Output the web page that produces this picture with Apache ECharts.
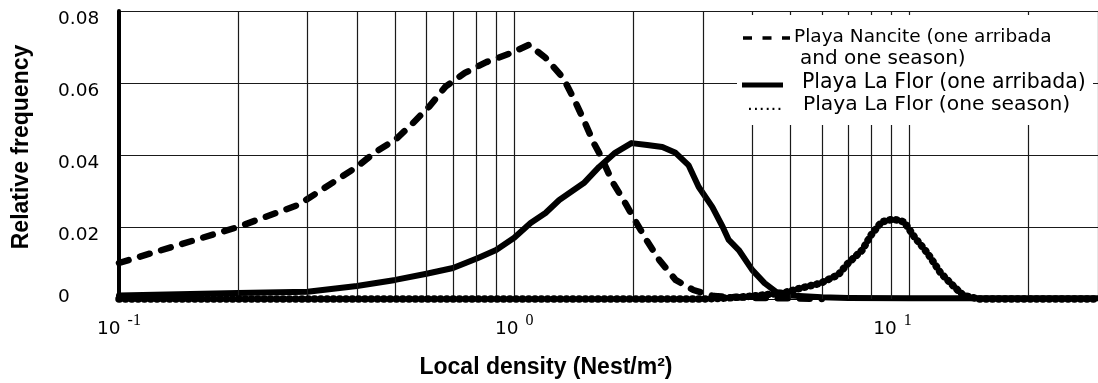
<!DOCTYPE html>
<html>
<head>
<meta charset="utf-8">
<script src="https://cdn.jsdelivr.net/npm/echarts@6/dist/echarts.min.js"></script>
<style>
  html, body { margin: 0; padding: 0; background: #fff; }
  #chart { width: 1098px; height: 383px; }
</style>
</head>
<body>
<div id="chart"></div>
<script>
// Local nest density (nests/m²) and relative frequency for each data set
const nanciteDensity = [0.1, 0.2, 0.285, 0.4, 0.445, 0.5, 0.55, 0.61, 0.67, 0.75, 0.85, 0.98, 1.09, 1.2, 1.33, 1.41, 1.5, 1.59, 1.64, 1.78, 1.89, 2.04, 2.16, 2.33, 2.56, 2.84, 3.2, 4.0, 5.0, 6.0];
const nanciteFreq    = [0.0100, 0.0200, 0.0262, 0.0367, 0.0408, 0.0442, 0.0485, 0.0535, 0.0590, 0.0628, 0.0658, 0.0683, 0.0706, 0.0670, 0.0614, 0.0560, 0.0497, 0.0433, 0.0406, 0.0322, 0.0275, 0.0211, 0.0164, 0.0108, 0.0053, 0.0025, 0.0008, 0.0003, 0.0002, 0.0];

const arribadaDensity = [0.1, 0.2, 0.3, 0.4, 0.5, 0.6, 0.7, 0.81, 0.9, 1.0, 1.1, 1.2, 1.3, 1.5, 1.64, 1.8, 1.98, 2.17, 2.37, 2.56, 2.76, 2.93, 3.17, 3.37, 3.49, 3.7, 4.0, 4.3, 4.6, 5.0, 6.0, 7.0, 10, 20, 30];
const arribadaFreq    = [0.0010, 0.0017, 0.0020, 0.0036, 0.0053, 0.0070, 0.0086, 0.0114, 0.0136, 0.0170, 0.0211, 0.0239, 0.0275, 0.0322, 0.0367, 0.0406, 0.0433, 0.0428, 0.0422, 0.0406, 0.0372, 0.0311, 0.0256, 0.0200, 0.0164, 0.0136, 0.0081, 0.0044, 0.0020, 0.0010, 0.0005, 0.0003, 0.0002, 0.0002, 0.0002];

const seasonDensity = [0.1, 0.5, 1.0, 2.0, 3.0, 3.5, 4.0, 4.8, 5.3, 5.96, 6.6, 7.0, 7.6, 8.0, 8.5, 9.1, 9.7, 10.3, 11.1, 12.0, 13.0, 13.7, 15, 20, 30];
const seasonFreq    = [0, 0, 0, 0, 0, 0.0003, 0.0008, 0.0017, 0.0030, 0.0044, 0.0067, 0.0100, 0.0136, 0.0178, 0.0214, 0.0222, 0.0214, 0.0172, 0.0128, 0.0072, 0.0033, 0.0010, 0, 0, 0];

// Axis ticks and reference grid
const xTickExponents = [-1, 0, 1];
const yTickLabels = ['0', '0.02', '0.04', '0.06', '0.08'];
const gridDensities = [0.2, 0.3, 0.4, 0.5, 0.6, 0.7, 0.8, 0.9, 2, 3, 4, 5, 6, 7, 8, 9, 20];

const seriesNames = [
  'Playa Nancite (one arribada and one season)',
  'Playa La Flor (one arribada)',
  'Playa La Flor (one season)'
];

const pairs = (xs, ys) => xs.map((x, i) => [x, ys[i]]);

const FONT = 'DejaVu Sans';
const legendFont = size => size + 'px "DejaVu Sans"';
const chart = echarts.init(document.getElementById('chart'));

chart.setOption({
  animation: false,
  backgroundColor: '#fff',
  grid: { left: 119, right: -7, top: 11, bottom: 84, containLabel: false },
  xAxis: {
    type: 'log',
    logBase: 10,
    min: 0.1,
    max: 30,
    axisLine: { show: true, lineStyle: { color: '#000', width: 1 } },
    axisTick: { show: false },
    splitLine: { show: true, lineStyle: { color: '#1a1a1a', width: 1.2 } },
    axisLabel: {
      margin: 14,
      showMaxLabel: false,
      formatter: function (v) {
        const lg = Math.log10(v);
        const e = Math.round(lg);
        if (Math.abs(lg - e) > 1e-6 || xTickExponents.indexOf(e) < 0) return '';
        const sup = e === 1 ? 'sl' : 's';
        return '{b|10}{' + sup + '|' + e + '}';
      },
      rich: {
        b: { fontFamily: FONT, fontSize: 18.5, color: '#000', verticalAlign: 'bottom', lineHeight: 26 },
        s: { fontFamily: 'Liberation Serif', fontSize: 16, color: '#000', verticalAlign: 'top', padding: [0, 0, 0, 7], lineHeight: 26 },
        sl: { fontFamily: 'Liberation Serif', fontSize: 16, color: '#000', verticalAlign: 'top', padding: [0, 34, 0, 7], lineHeight: 26 }
      }
    }
  },
  yAxis: {
    type: 'value',
    min: 0,
    max: 0.08,
    interval: 0.02,
    axisLine: { show: true, lineStyle: { color: '#000', width: 4 } },
    axisTick: { show: false },
    splitLine: { show: true, lineStyle: { color: '#1a1a1a', width: 1.2 } },
    axisLabel: {
      align: 'left',
      margin: 61,
      formatter: function (v) {
        const label = yTickLabels[Math.round(v / 0.02)];
        return v === 0 ? '{z|' + label + '}' : '{d|' + label + '}';
      },
      rich: {
        d: { fontFamily: FONT, fontSize: 18.5, color: '#000', padding: [16, 0, 0, 0] },
        z: { fontFamily: FONT, fontSize: 18.5, color: '#000', padding: [0, 0, 4, 0] }
      }
    }
  },
  series: [
    {
      // vertical reference lines at 2–9 times each decade
      type: 'line',
      data: [],
      z: 1,
      silent: true,
      markLine: {
        silent: true,
        symbol: 'none',
        label: { show: false },
        lineStyle: { color: '#1a1a1a', width: 1.2, type: 'solid' },
        data: gridDensities.map(d => ({ xAxis: d }))
      }
    },
    {
      name: seriesNames[0],
      type: 'line',
      z: 3,
      clip: false,
      symbol: 'none',
      data: pairs(nanciteDensity, nanciteFreq),
      lineStyle: { color: '#000', width: 6.5, type: [10, 12], cap: 'round', join: 'round' }
    },
    {
      name: seriesNames[1],
      type: 'line',
      z: 4,
      clip: false,
      symbol: 'none',
      data: pairs(arribadaDensity, arribadaFreq),
      lineStyle: { color: '#000', width: 6, type: 'solid', cap: 'round', join: 'round' }
    },
    {
      name: seriesNames[2],
      type: 'line',
      z: 5,
      clip: false,
      symbol: 'none',
      data: pairs(seasonDensity, seasonFreq),
      lineStyle: { color: '#000', width: 7.5, type: [0.5, 5.8], cap: 'round', join: 'round' }
    }
  ],
  graphic: [
    {
      type: 'text',
      z: 100,
      x: 22, y: 147,
      rotation: Math.PI / 2,
      style: {
        text: 'Relative frequency',
        font: 'bold 23px "Liberation Sans", Arial, sans-serif',
        fill: '#000',
        align: 'center',
        verticalAlign: 'middle'
      }
    },
    {
      type: 'text',
      z: 100,
      x: 546, y: 368,
      style: {
        text: 'Local density (Nest/m²)',
        font: 'bold 23px "Liberation Sans", Arial, sans-serif',
        fill: '#000',
        align: 'center',
        verticalAlign: 'middle'
      }
    },
    {
      type: 'group',
      z: 100,
      children: [
        { type: 'rect', z: 100, shape: { x: 737, y: 15, width: 356, height: 110 }, style: { fill: '#fff' } },
        { type: 'line', z: 101, shape: { x1: 743, y1: 38, x2: 790, y2: 38 }, style: { stroke: '#000', lineWidth: 3.5, lineDash: [9, 10.5] } },
        { type: 'text', z: 101, x: 794, y: 37, style: { text: 'Playa Nancite (one arribada', font: legendFont(18.5), fill: '#000', align: 'left', verticalAlign: 'middle' } },
        { type: 'text', z: 101, x: 800, y: 59, style: { text: 'and one season)', font: legendFont(20), fill: '#000', align: 'left', verticalAlign: 'middle' } },
        { type: 'line', z: 101, shape: { x1: 742, y1: 85, x2: 783, y2: 85 }, style: { stroke: '#000', lineWidth: 5 } },
        { type: 'text', z: 101, x: 802, y: 83, style: { text: 'Playa La Flor (one arribada)', font: legendFont(20.5), fill: '#000', align: 'left', verticalAlign: 'middle' } },
        { type: 'text', z: 101, x: 747, y: 105, style: { text: '......', font: legendFont(18.5), fill: '#000', align: 'left', verticalAlign: 'middle' } },
        { type: 'text', z: 101, x: 803, y: 105, style: { text: 'Playa La Flor (one season)', font: legendFont(20.3), fill: '#000', align: 'left', verticalAlign: 'middle' } }
      ]
    }
  ]
});
</script>
</body>
</html>
